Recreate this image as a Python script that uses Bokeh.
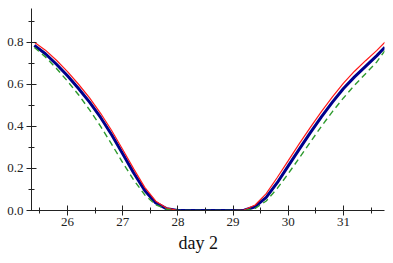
from bokeh.plotting import figure
from bokeh.models import FixedTicker, NumeralTickFormatter, Title
from bokeh.embed import file_html
from bokeh.resources import INLINE

# data
x_vals = [25.4, 25.6, 25.8, 26.0, 26.2, 26.4, 26.6, 26.8, 27.0, 27.2, 27.4, 27.6, 27.8, 28.0,
          28.5, 29.0, 29.2, 29.4, 29.6, 29.8, 30.0, 30.2, 30.4, 30.6, 30.8, 31.0, 31.2, 31.4, 31.6, 31.75]
blue_vals = [0.785, 0.745, 0.695, 0.640, 0.580, 0.515, 0.442, 0.360, 0.270, 0.178, 0.095, 0.036, 0.008, 0.0,
             0.0, 0.0, 0.001, 0.018, 0.062, 0.132, 0.212, 0.292, 0.370, 0.445, 0.515, 0.580, 0.635, 0.685, 0.735, 0.776]
red_vals = [0.800, 0.762, 0.714, 0.660, 0.600, 0.535, 0.462, 0.380, 0.290, 0.198, 0.110, 0.044, 0.011, 0.0,
            0.0, 0.0, 0.002, 0.026, 0.080, 0.157, 0.237, 0.318, 0.395, 0.470, 0.540, 0.605, 0.662, 0.712, 0.760, 0.800]
green_vals = [0.775, 0.730, 0.675, 0.615, 0.550, 0.478, 0.400, 0.315, 0.228, 0.145, 0.074, 0.027, 0.006, 0.0,
              0.0, 0.0, 0.0, 0.010, 0.045, 0.105, 0.175, 0.250, 0.325, 0.400, 0.470, 0.535, 0.595, 0.650, 0.705, 0.760]

x_major = [26, 27, 28, 29, 30, 31]
x_minor = [25.5, 26.5, 27.5, 28.5, 29.5, 30.5, 31.5]
y_major = [0.0, 0.2, 0.4, 0.6, 0.8]
y_minor = [0.1, 0.3, 0.5, 0.7, 0.9]
x_title = "day 2"

FONT = "Liberation Serif"

p = figure(width=385, height=255, output_backend="svg", toolbar_location=None,
           x_range=(25.348, 31.743), y_range=(0.0, 0.96),
           min_border_left=31, min_border_right=1, min_border_top=8, min_border_bottom=45)
p.outline_line_color = None
p.xgrid.visible = False
p.ygrid.visible = False
p.background_fill_color = "white"
p.border_fill_color = "white"

p.line(x_vals, blue_vals, line_color="#00008b", line_width=3)
p.line(x_vals, red_vals, line_color="#ff1a1a", line_width=1.2)
p.line(x_vals, green_vals, line_color="#2e9a2e", line_width=1.4, line_dash="6 4")

for ax, maj, mnr in ((p.xaxis[0], x_major, x_minor), (p.yaxis[0], y_major, y_minor)):
    ax.ticker = FixedTicker(ticks=maj, minor_ticks=mnr)
    ax.axis_line_color = "#222222"
    ax.major_tick_line_color = "#222222"
    ax.minor_tick_line_color = "#222222"
    ax.major_tick_in = 5
    ax.major_tick_out = 5
    ax.minor_tick_in = 3
    ax.minor_tick_out = 3
    ax.major_label_text_font = FONT
    ax.major_label_text_font_size = "13px"
    ax.major_label_text_color = "#222222"

p.xaxis.major_label_standoff = 2
p.yaxis.major_label_standoff = 3
p.yaxis.formatter = NumeralTickFormatter(format="0.0")

t = Title(text=x_title, align="left", offset=147, standoff=4,
          text_font=FONT, text_font_size="18px", text_font_style="normal", text_color="#111111")
p.add_layout(t, "below")

open("out.html", "w").write(file_html(p, INLINE))
